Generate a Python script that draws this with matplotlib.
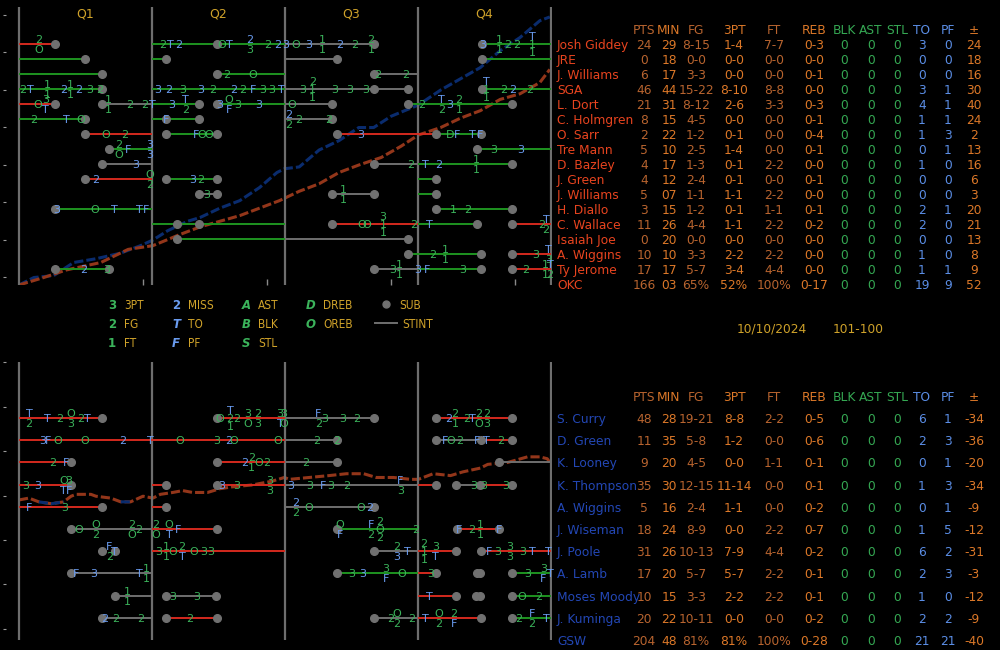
import numpy as np
import matplotlib.pyplot as plt
from matplotlib import transforms

# -----------------------------
# 1. Game info
# -----------------------------
quarters = ["Q1", "Q2", "Q3", "Q4"]
quarter_ends = [0, 12, 24, 36, 48]
game_date = "10/10/2024"
final_score = "101-100"

stat_headers = ["PTS", "MIN", "FG", "3PT", "FT", "REB", "BLK", "AST", "STL", "TO", "PF", "±"]

# -----------------------------
# 2. Box scores
# -----------------------------
okc_names = ["Josh Giddey", "JRE", "J. Williams", "SGA", "L. Dort", "C. Holmgren", "O. Sarr",
             "Tre Mann", "D. Bazley", "J. Green", "J. Williams", "H. Diallo", "C. Wallace",
             "Isaiah Joe", "A. Wiggins", "Ty Jerome"]
okc_pts = [24, 0, 6, 46, 21, 8, 2, 5, 4, 4, 5, 3, 11, 0, 10, 17]
okc_min = ["29", "18", "17", "44", "31", "15", "22", "10", "17", "12", "07", "15", "26", "20", "10", "17"]
okc_fg = ["8-15", "0-0", "3-3", "15-22", "8-12", "4-5", "1-2", "2-5", "1-3", "2-4", "1-1", "1-2",
          "4-4", "0-0", "3-3", "5-7"]
okc_3pt = ["1-4", "0-0", "0-0", "8-10", "2-6", "0-0", "0-1", "1-4", "0-1", "0-1", "1-1", "0-1",
           "1-1", "0-0", "2-2", "3-4"]
okc_ft = ["7-7", "0-0", "0-0", "8-8", "3-3", "0-0", "0-0", "0-0", "2-2", "0-0", "2-2", "1-1",
          "2-2", "0-0", "2-2", "4-4"]
okc_reb = ["0-3", "0-0", "0-1", "0-0", "0-3", "0-1", "0-4", "0-1", "0-0", "0-1", "0-0", "0-1",
           "0-2", "0-0", "0-0", "0-0"]
okc_blk = [0] * 16
okc_ast = [0] * 16
okc_stl = [0] * 16
okc_to = [3, 0, 0, 3, 4, 1, 1, 0, 1, 0, 0, 2, 2, 0, 1, 1]
okc_pf = [0, 0, 0, 1, 1, 1, 3, 1, 0, 0, 0, 1, 0, 0, 0, 1]
okc_pm = [24, 18, 16, 30, 40, 24, 2, 13, 16, 6, 3, 20, 21, 13, 8, 9]
okc_total = ["166", "03", "65%", "52%", "100%", "0-17", "0", "0", "0", "19", "9", "52"]

gsw_names = ["S. Curry", "D. Green", "K. Looney", "K. Thompson", "A. Wiggins", "J. Wiseman",
             "J. Poole", "A. Lamb", "Moses Moody", "J. Kuminga"]
gsw_pts = [48, 11, 9, 35, 5, 18, 31, 17, 10, 20]
gsw_min = ["28", "35", "20", "30", "16", "24", "26", "20", "15", "22"]
gsw_fg = ["19-21", "5-8", "4-5", "12-15", "2-4", "8-9", "10-13", "5-7", "3-3", "10-11"]
gsw_3pt = ["8-8", "1-2", "0-0", "11-14", "1-1", "0-0", "7-9", "5-7", "2-2", "0-0"]
gsw_ft = ["2-2", "0-0", "1-1", "0-0", "0-0", "2-2", "4-4", "2-2", "2-2", "0-0"]
gsw_reb = ["0-5", "0-6", "0-1", "0-1", "0-2", "0-7", "0-2", "0-1", "0-1", "0-2"]
gsw_blk = [0] * 10
gsw_ast = [0] * 10
gsw_stl = [0] * 10
gsw_to = [6, 2, 0, 1, 0, 1, 6, 2, 1, 2]
gsw_pf = [1, 3, 1, 3, 1, 5, 2, 3, 0, 2]
gsw_pm = [-34, -36, -20, -34, -9, -12, -31, -3, -12, -9]
gsw_total = ["204", "48", "81%", "81%", "100%", "0-28", "0", "0", "0", "21", "21", "-40"]

# -----------------------------
# 3. Score progression (event index -> points)
# -----------------------------
score_evt_blue = [0, 6, 14, 22, 31, 41, 49, 54, 60, 68, 73, 81, 89, 97, 104, 107, 113, 121, 129, 137,
                  143, 150, 161, 170, 178, 186, 194, 202, 210, 214]
score_blue = [0, 4, 5, 12, 14, 17, 21, 24, 29, 34, 36, 41, 45, 52, 60, 62, 63, 72, 77, 84,
              84, 90, 96, 104, 110, 116, 125, 132, 141, 143]
score_evt_red = [0, 10, 19, 33, 44, 54, 65, 73, 81, 89, 97, 105, 113, 121, 129, 137, 146, 154, 161, 170,
                 178, 186, 194, 202, 210, 214]
score_red = [0, 4, 8, 12, 19, 21, 27, 31, 34, 37, 41, 45, 50, 54, 60, 64, 68, 74, 80, 84,
             89, 93, 99, 102, 108, 115]

diff_evt = [0, 4, 8, 13, 18, 21, 23, 29, 31, 37, 41, 45, 50, 54, 57, 62, 66, 70, 76, 81,
            86, 94, 102, 107, 109, 117, 125, 132, 139, 144, 151, 158, 161, 163, 167, 174, 179, 186, 189, 197,
            205, 210, 213, 214]
diff = [0, 1, -1, -2, -1, 2, 3, 3, 2, 1, -1, -1, 2, 1, 3, 4, 5, 4, 4, 6,
        7, 8, 10, 12, 11, 12, 13, 14, 14, 12, 12, 11, 11, 12, 14, 13, 15, 17, 19, 20,
        23, 23, 22, 20]

# -----------------------------
# 4. Stints, subs, events (row, game minute)
#    events: "/" stacks, "x" prefix = missed shot
# -----------------------------
okc_stints = [
    (0, 0, 3.25, "r"), (0, 12, 24, "g"), (0, 24, 32.05, "k"), (0, 41.8, 48, "g"),
    (1, 0, 5.95, "g"), (1, 12, 13.25, "g"), (1, 24, 28.7, "k"), (1, 41.8, 48, "g"),
    (2, 0, 7.5, "g"), (2, 17.85, 24, "g"), (2, 32.05, 36, "k"),
    (3, 0, 7.5, "g"), (3, 12, 24, "g"), (3, 24, 35.1, "k"), (3, 41.8, 48, "g"),
    (4, 0, 3.25, "r"), (4, 7.5, 12, "k"), (4, 12, 16.25, "g"), (4, 17.85, 24, "g"), (4, 24, 28.25, "k"),
    (4, 35.1, 44.5, "g"),
    (5, 0, 5.95, "g"), (5, 12, 16.25, "g"), (5, 24, 28.25, "k"),
    (6, 5.95, 12, "r"), (6, 13.25, 17.85, "g"), (6, 28.7, 37.6, "r"), (6, 37.6, 41.7, "g"),
    (7, 8.1, 12, "g"), (7, 41.3, 48, "g"),
    (8, 7.5, 12, "k"), (8, 32.05, 36, "k"), (8, 36, 44.5, "g"),
    (9, 5.95, 12, "r"), (9, 13.25, 17.85, "g"), (9, 36, 37.6, "g"),
    (10, 16.25, 17.85, "k"), (10, 28.25, 32.05, "k"), (10, 36, 37.6, "g"),
    (11, 3.25, 12, "g"), (11, 37.6, 44.5, "g"),
    (12, 12, 24, "g"), (12, 28.25, 36, "r"), (12, 36, 41.3, "g"), (12, 44.5, 48, "r"),
    (13, 14.25, 24, "g"), (13, 24, 35.1, "k"),
    (14, 35.1, 41.7, "g"), (14, 44.5, 48, "r"),
    (15, 3.25, 8.1, "g"), (15, 32.05, 36, "k"), (15, 36, 41.7, "g"), (15, 44.5, 48, "r"),
]
okc_subs = [
    (0, 3.25), (0, 17.85), (0, 32.05), (0, 41.8),
    (1, 5.95), (1, 13.25), (1, 28.7), (1, 41.8),
    (2, 7.5), (2, 17.85), (2, 32.05),
    (3, 7.5), (3, 32.05), (3, 35.1), (3, 41.8),
    (4, 3.25), (4, 7.5), (4, 16.25), (4, 17.85), (4, 28.25), (4, 35.1), (4, 44.5),
    (5, 5.95), (5, 13.25), (5, 16.25), (5, 28.25),
    (6, 5.95), (6, 13.25), (6, 17.85), (6, 28.7), (6, 37.6), (6, 41.7),
    (7, 8.1), (7, 41.3),
    (8, 7.5), (8, 32.05), (8, 44.5),
    (9, 5.95), (9, 13.25), (9, 17.85), (9, 37.6),
    (10, 16.25), (10, 17.85), (10, 28.25), (10, 32.05), (10, 37.6),
    (11, 3.25), (11, 37.6), (11, 44.5),
    (12, 14.25), (12, 16.25), (12, 28.25), (12, 41.3), (12, 44.5),
    (13, 14.25), (13, 35.1),
    (14, 35.1), (14, 41.7), (14, 44.5),
    (15, 3.25), (15, 8.1), (15, 32.05), (15, 41.7), (15, 44.5),
]
okc_events = [
    (0, 1.8, "2/O"),
    (0, 13.0, "2"), (0, 13.7, "T"), (0, 14.45, "x2"),
    (0, 18.3, "O"), (0, 19.0, "T"), (0, 20.85, "x2/3"),
    (0, 22.45, "2"), (0, 23.3, "x2"), (0, 24.1, "x3"), (0, 25.0, "O"), (0, 26.1, "x3"),
    (0, 27.35, "1/1"), (0, 28.95, "x2"), (0, 30.3, "2"), (0, 31.75, "2/1"),
    (0, 41.85, "x3"), (0, 43.3, "1/1"), (0, 44.1, "2"), (0, 44.9, "2"), (0, 46.3, "T/1/1"),
    (2, 18.7, "2"), (2, 21.1, "O"), (2, 32.4, "2"), (2, 34.9, "2"),
    (3, 0.36, "2"), (3, 1.0, "T"), (3, 2.6, "1/1"), (3, 4.0, "x2"), (3, 4.6, "1/1"),
    (3, 5.4, "x2"), (3, 6.4, "3"), (3, 7.3, "2"),
    (3, 12.55, "x3"), (3, 13.55, "x2"), (3, 14.8, "3"), (3, 16.35, "x3"), (3, 17.5, "2"),
    (3, 19.4, "x2"), (3, 20.2, "2"), (3, 21.1, "F"), (3, 22.0, "3"), (3, 22.8, "3"), (3, 23.7, "T"),
    (3, 25.6, "3"), (3, 26.5, "2/1/1"), (3, 28.5, "3"), (3, 29.85, "3"), (3, 31.3, "3"),
    (3, 42.15, "T/1/1"), (3, 43.75, "2"), (3, 44.5, "x2"), (3, 46.1, "2"),
    (4, 1.7, "O"), (4, 2.4, "3/T"), (4, 8.1, "1/1"), (4, 10.0, "2"), (4, 11.3, "2"), (4, 12.0, "T"),
    (4, 13.8, "x3"), (4, 15.05, "T/2"), (4, 18.15, "x3"), (4, 18.95, "O/F"), (4, 19.75, "3"),
    (4, 21.65, "x3"), (4, 24.65, "O"), (4, 36.3, "2"), (4, 38.1, "T/2"), (4, 38.9, "x3"), (4, 39.7, "2/1"),
    (5, 1.35, "2"), (5, 4.3, "T"), (5, 5.6, "O"), (5, 13.25, "F"), (5, 24.3, "x2/2"), (5, 25.2, "2"),
    (5, 27.9, "2"),
    (6, 7.8, "O"), (6, 9.5, "2"), (6, 16.0, "F"), (6, 16.5, "O"), (6, 17.1, "O"), (6, 30.85, "x3"),
    (6, 38.9, "D"), (6, 39.5, "F"), (6, 40.95, "T"), (6, 41.6, "F"),
    (7, 9.0, "2/O"), (7, 9.85, "F"), (7, 11.75, "x3/x3"), (7, 42.85, "3"), (7, 45.3, "x3"),
    (8, 10.55, "x3"), (8, 35.3, "2"), (8, 36.7, "T"), (8, 37.9, "x2"), (8, 41.25, "1/1"),
    (9, 6.95, "x2"), (9, 11.8, "O/2"), (9, 15.7, "x3"), (9, 16.4, "2"),
    (10, 16.95, "3"), (10, 29.3, "1/1"),
    (11, 3.4, "x3"), (11, 6.8, "O"), (11, 8.6, "T"), (11, 10.9, "T"), (11, 11.5, "F"), (11, 39.15, "1"),
    (11, 40.5, "2"),
    (12, 30.9, "O"), (12, 31.4, "O"), (12, 32.85, "3/1/1"), (12, 35.65, "2"), (12, 37.0, "T"),
    (12, 47.2, "2"), (12, 47.55, "T/2"),
    (14, 37.35, "2"), (14, 38.45, "1/1"), (14, 46.65, "3"), (14, 47.75, "T/3"),
    (15, 5.85, "x2"), (15, 7.95, "3"), (15, 33.75, "3"), (15, 34.3, "1/1"), (15, 36.0, "x3"), (15, 36.8, "F"),
    (15, 40.05, "3"), (15, 45.75, "2"), (15, 47.45, "1/1"), (15, 47.9, "T/2"),
]

gsw_stints = [
    (0, 0, 7.5, "r"), (0, 17.85, 24, "r"), (0, 24, 32.05, "k"), (0, 37.6, 44.5, "r"),
    (1, 0, 24, "r"), (1, 24, 28.7, "k"), (1, 37.6, 41.7, "k"), (1, 41.7, 44.5, "r"),
    (2, 0, 4.7, "r"), (2, 17.85, 24, "r"), (2, 24, 28.7, "k"), (2, 43.3, 48, "k"),
    (3, 0, 4.7, "r"), (3, 12, 13.25, "r"), (3, 17.85, 24, "r"), (3, 24, 36, "k"), (3, 36, 37.6, "r"),
    (3, 39.45, 41.6, "k"), (3, 41.6, 44.5, "r"),
    (4, 0, 7.5, "r"), (4, 12, 13.25, "r"), (4, 24, 32.05, "k"),
    (5, 4.7, 12, "k"), (5, 12, 17.85, "r"), (5, 28.7, 36, "g"), (5, 39.5, 43.3, "r"),
    (6, 12, 24, "r"), (6, 32.05, 36, "k"), (6, 36, 39.45, "r"), (6, 41.7, 48, "r"),
    (7, 4.7, 12, "k"), (7, 28.7, 36, "g"), (7, 36, 37.6, "r"), (7, 44.5, 48, "g"),
    (8, 8.65, 12, "k"), (8, 13.25, 17.8, "k"), (8, 36, 39.45, "r"), (8, 44.5, 48, "g"),
    (9, 7.5, 12, "k"), (9, 13.25, 17.85, "r"), (9, 32.05, 36, "k"), (9, 36, 41.7, "r"), (9, 44.5, 48, "g"),
]
gsw_subs = [
    (0, 7.5), (0, 17.85), (0, 32.05), (0, 37.6), (0, 44.5),
    (1, 28.7), (1, 37.6), (1, 41.7), (1, 44.5),
    (2, 4.7), (2, 17.85), (2, 28.7), (2, 43.3),
    (3, 4.7), (3, 13.25), (3, 17.85), (3, 37.6), (3, 39.45), (3, 41.6), (3, 44.5),
    (4, 7.5), (4, 13.25), (4, 32.05),
    (5, 4.7), (5, 17.85), (5, 28.7), (5, 39.5), (5, 43.3),
    (6, 7.5), (6, 8.65), (6, 32.05), (6, 39.45), (6, 41.7),
    (7, 4.7), (7, 28.7), (7, 37.6), (7, 41.3), (7, 41.6), (7, 44.5),
    (8, 8.65), (8, 13.25), (8, 17.8), (8, 39.45), (8, 41.25), (8, 41.6), (8, 44.5),
    (9, 7.5), (9, 13.25), (9, 17.85), (9, 32.05), (9, 41.7), (9, 44.5),
]
gsw_events = [
    (0, 0.9, "T/2"), (0, 2.6, "T"), (0, 3.7, "2"), (0, 4.65, "O/3"), (0, 5.6, "2"), (0, 6.2, "T"),
    (0, 18.15, "O"), (0, 19.05, "T/2/1"), (0, 19.6, "2"), (0, 20.6, "3/O"), (0, 21.5, "2/3"),
    (0, 23.55, "3/T"), (0, 23.85, "3/O"),
    (0, 27.0, "F/2"), (0, 27.6, "3"), (0, 29.25, "3"), (0, 30.5, "2"),
    (0, 38.8, "x2"), (0, 39.35, "2/1"), (0, 40.35, "2"), (0, 40.95, "T"), (0, 41.5, "2/O"), (0, 42.2, "2/3"),
    (1, 2.1, "x3"), (1, 2.6, "F"), (1, 3.5, "O"), (1, 5.9, "O"), (1, 9.4, "x2"), (1, 11.9, "T"),
    (1, 14.5, "O"), (1, 17.85, "3"), (1, 18.95, "x2"), (1, 19.4, "O"), (1, 23.35, "O"),
    (1, 26.9, "2"), (1, 28.7, "2"),
    (1, 38.45, "F"), (1, 38.95, "O"), (1, 39.8, "2"), (1, 41.3, "F"), (1, 42.2, "T"), (1, 43.5, "2"),
    (2, 3.0, "2"), (2, 4.25, "F"), (2, 20.4, "x2"), (2, 21.0, "2/1"), (2, 21.65, "O"), (2, 22.35, "2"),
    (2, 25.9, "2"),
    (3, 0.65, "3"), (3, 1.65, "x3"), (3, 4.0, "O/T"), (3, 4.5, "3/F"),
    (3, 18.3, "x3"), (3, 19.6, "3"), (3, 22.65, "3/3"),
    (3, 24.55, "x3"), (3, 26.25, "3"), (3, 27.45, "F"), (3, 28.15, "3"), (3, 29.6, "2"), (3, 34.4, "F/3"),
    (3, 41.05, "3"), (3, 41.95, "3"), (3, 43.95, "3"),
    (4, 0.9, "F"), (4, 4.15, "3"), (4, 25.0, "x2/2"), (4, 26.15, "O"), (4, 30.85, "O"), (4, 31.6, "x2"),
    (5, 5.4, "O"), (5, 6.95, "O/2"), (5, 10.2, "2/O"), (5, 10.8, "2"), (5, 12.3, "2/O"), (5, 13.55, "O/T"),
    (5, 14.35, "F"),
    (5, 28.95, "O/F"), (5, 31.75, "F/2"), (5, 32.55, "2/O/2"), (5, 35.8, "2"),
    (5, 39.7, "F"), (5, 40.8, "2"), (5, 41.6, "1/1"), (5, 43.3, "F"),
    (6, 8.15, "F/2"), (6, 8.6, "T"), (6, 12.65, "3"), (6, 13.25, "1/1"), (6, 13.9, "O"), (6, 14.7, "2/T"),
    (6, 15.8, "O"), (6, 16.7, "3"), (6, 17.3, "3"),
    (6, 34.1, "2/x3"), (6, 35.0, "T"), (6, 36.55, "2/1/1"), (6, 37.6, "3/T"),
    (6, 42.4, "F"), (6, 43.15, "3"), (6, 44.3, "3/3"), (6, 45.45, "3"), (6, 46.3, "T"), (6, 47.75, "T"),
    (7, 5.15, "F"), (7, 6.75, "x3"), (7, 10.9, "T"), (7, 11.45, "1/1"),
    (7, 30.05, "3"), (7, 31.05, "x3"), (7, 33.1, "3/F"), (7, 34.55, "O"), (7, 37.15, "3"),
    (7, 45.9, "3"), (7, 47.3, "3/F"), (7, 47.9, "T"),
    (8, 9.75, "1/1"), (8, 13.9, "3"), (8, 16.0, "3"), (8, 37.0, "T"), (8, 45.4, "O"), (8, 46.9, "2"),
    (9, 7.75, "x2"), (9, 8.75, "2"), (9, 11.0, "2"), (9, 15.4, "2"),
    (9, 33.55, "2"), (9, 34.1, "O/2"), (9, 35.45, "2"), (9, 36.7, "T"), (9, 37.9, "O/2"), (9, 39.25, "2/F"),
    (9, 45.1, "2"), (9, 46.3, "F/2"), (9, 47.55, "T"),
]

# legend entries (symbol, label)
legend_cols = [
    [("3", "3PT"), ("2", "FG"), ("1", "FT")],
    [("2", "MISS"), ("T", "TO"), ("F", "PF")],
    [("A", "AST"), ("B", "BLK"), ("S", "STL")],
    [("D", "DREB"), ("O", "OREB")],
]

# -----------------------------
# 5. Styles
# -----------------------------
GOLD = "#cfa22a"
EV_GREEN = "#3bb35b"
EV_BLUE = "#6a9cf0"
DOT = "#707070"
QLINE = "#6e6e6e"
SCORE_BLUE = "#0a2c6e"
SCORE_RED = "#93361a"
stint_colors = {"r": "#d42a1e", "g": "#1e9420", "k": "#6e6e6e"}
DARK_OR = "#b8642f"
BRIGHT_OR = "#dc7828"
T_GREEN = "#35a853"
T_BLUE = "#5b8ee6"
col_colors = [DARK_OR, BRIGHT_OR, DARK_OR, BRIGHT_OR, DARK_OR, BRIGHT_OR,
              T_GREEN, T_GREEN, T_GREEN, T_BLUE, T_BLUE, BRIGHT_OR]
col_x = [644, 669, 696, 734, 774, 814, 844, 871, 897, 922, 948, 974]
name_x = 557

fig = plt.figure(figsize=(10, 6.5), dpi=100, facecolor="black")


def make_panel(top_px, bottom_px, ylim):
    rect = [0.006, (650 - bottom_px) / 650, 0.546, (bottom_px - top_px) / 650]
    sc = fig.add_axes(rect)
    ax = fig.add_axes(rect)
    for a in (sc, ax):
        a.set_facecolor("none")
        for s in a.spines.values():
            s.set_visible(False)
    sc.set_xlim(-5.24, 214.9)
    sc.set_yticks([])
    ax.set_xlim(-1.17, 48.09)
    ax.set_ylim(*ylim)
    ax.set_xticks([])
    ax.tick_params(axis="y", direction="out", length=2.5, width=0.8, color="#9a9a9a", labelleft=False)
    ax.vlines(quarter_ends, ylim[1], ylim[0], color=QLINE, lw=1.6, zorder=1)
    return sc, ax


def draw_rows(ax, stints, subs, events):
    rows, t0, t1, cs = zip(*stints)
    ax.hlines(rows, t0, t1, colors=[stint_colors[c] for c in cs], lw=1.4, zorder=2)
    r, t = zip(*subs)
    ax.plot(t, r, "o", ms=5.5, color=DOT, ls="none", zorder=3, clip_on=False)
    for row, tm, code in events:
        parts = code.split("/")
        n = len(parts)
        gap = 7.2 if n == 2 else 5.8
        for k, p in enumerate(parts):
            txt = p.lstrip("x")
            blue = p.startswith("x") or txt in ("T", "F")
            ax.annotate(txt, (tm, row), xytext=(0, ((n - 1) / 2 - k) * gap), textcoords="offset points",
                        ha="center", va="center_baseline", fontsize=8,
                        color=EV_BLUE if blue else EV_GREEN, zorder=4, annotation_clip=False)


def draw_table(ax, names, cols, total, team, name_color):
    tr = transforms.blended_transform_factory(fig.transFigure, ax.transData)
    for j, h in enumerate(stat_headers):
        ax.text(col_x[j] / 1000, -1, h, transform=tr, ha="center", va="center_baseline",
                fontsize=8.8, color=col_colors[j])
    for i, name in enumerate(names):
        ax.text(name_x / 1000, i, name, transform=tr, ha="left", va="center_baseline",
                fontsize=8.8, color=name_color)
        for j, col in enumerate(cols):
            ax.text(col_x[j] / 1000, i, str(col[i]), transform=tr, ha="center", va="center_baseline",
                    fontsize=8.8, color=col_colors[j])
    n = len(names)
    ax.text(name_x / 1000, n, team, transform=tr, ha="left", va="center_baseline",
            fontsize=8.8, color=name_color)
    for j, v in enumerate(total):
        ax.text(col_x[j] / 1000, n, v, transform=tr, ha="center", va="center_baseline",
                fontsize=8.8, color=col_colors[j])


# -----------------------------
# 6. Top panel (OKC)
# -----------------------------
sc1, ax1 = make_panel(7, 285, (16.067, -2.467))
sc1.set_ylim(0, 148.3)
sc1.plot(score_evt_blue, score_blue, color=SCORE_BLUE, lw=2.2, ls=(0, (3, 1)))
sc1.plot(score_evt_red, score_red, color=SCORE_RED, lw=2.2, ls=(0, (3, 1)))
sc1.set_xticks([50, 100, 150, 200])
sc1.tick_params(axis="x", direction="in", length=4, width=1, color="#8a8a8a", labelbottom=False)
ax1.set_yticks([-1.95, 0.55, 3.05, 5.55, 8.05, 10.55, 13.05, 15.55])
for q, label in enumerate(quarters):
    ax1.text((quarter_ends[q] + quarter_ends[q + 1]) / 2, -2.0, label, ha="center", va="center",
             fontsize=9, color=GOLD)
draw_rows(ax1, okc_stints, okc_subs, okc_events)
draw_table(ax1, okc_names,
           [okc_pts, okc_min, okc_fg, okc_3pt, okc_ft, okc_reb, okc_blk, okc_ast, okc_stl,
            okc_to, okc_pf, okc_pm],
           okc_total, "OKC", "#e8441f")

# -----------------------------
# 7. Bottom panel (GSW)
# -----------------------------
sc2, ax2 = make_panel(362, 640, (10.0, -2.52))
sc2.set_ylim(-74.7, 73.6)
sc2.set_xticks([])
diff_arr = np.array(diff, dtype=float)
sc2.plot(diff_evt, diff_arr, color=SCORE_RED, lw=2.2, ls=(0, (3, 1)))
sc2.plot(diff_evt, np.where(diff_arr < 0, diff_arr, np.nan), color=SCORE_BLUE, lw=2.2, ls=(0, (3, 1)))
ax2.set_yticks([-2.5, -0.5, 1.5, 3.5, 5.5, 7.5, 9.5])
draw_rows(ax2, gsw_stints, gsw_subs, gsw_events)
draw_table(ax2, gsw_names,
           [gsw_pts, gsw_min, gsw_fg, gsw_3pt, gsw_ft, gsw_reb, gsw_blk, gsw_ast, gsw_stl,
            gsw_to, gsw_pf, gsw_pm],
           gsw_total, "GSW", "#2347b5")

# -----------------------------
# 8. Legend + game info
# -----------------------------
ov = fig.add_axes([0, 0, 1, 1])
ov.set_xlim(0, 1000)
ov.set_ylim(650, 0)
ov.axis("off")
sym_x = [112, 176, 246, 311]
lab_x = [124, 188, 258, 323]
leg_y = [304, 323, 342]
for c, items in enumerate(legend_cols):
    for r, (sym, lab) in enumerate(items):
        ov.text(sym_x[c], leg_y[r], sym, ha="center", va="center_baseline", fontsize=8.5,
                fontweight="bold", style="normal" if sym.isdigit() else "italic",
                color=EV_BLUE if c == 1 else EV_GREEN)
        ov.text(lab_x[c], leg_y[r], lab, ha="left", va="center_baseline", fontsize=8.5,
                fontstretch="condensed", color=GOLD)
ov.plot([386], [leg_y[0]], "o", ms=5, color=DOT)
ov.text(399, leg_y[0], "SUB", ha="left", va="center_baseline", fontsize=8.5, fontstretch="condensed",
        color=GOLD)
ov.plot([375, 397], [leg_y[1], leg_y[1]], color=DOT, lw=1.4)
ov.text(402, leg_y[1], "STINT", ha="left", va="center_baseline", fontsize=8.5, fontstretch="condensed",
        color=GOLD)
ov.text(772, 328, game_date, ha="center", va="center_baseline", fontsize=8.8, color=GOLD)
ov.text(858, 328, final_score, ha="center", va="center_baseline", fontsize=8.8, color=GOLD)

fig.savefig("out.png", dpi=100, facecolor="black")
